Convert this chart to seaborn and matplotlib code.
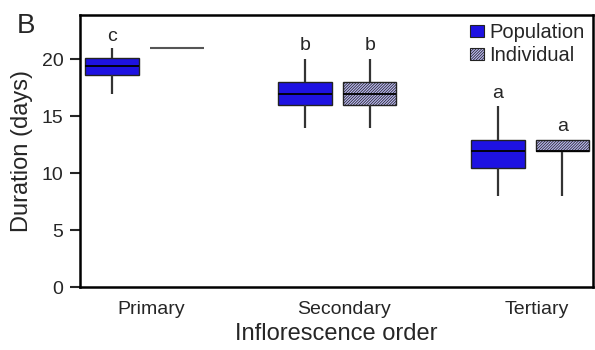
import matplotlib
matplotlib.use("Agg")
import matplotlib.pyplot as plt
import matplotlib.transforms as mtransforms
import seaborn as sns
import pandas as pd
import numpy as np
from matplotlib.patches import Patch

# ---- data (five-number style samples) ----
orders = ["Primary", "Secondary", "Tertiary"]
groups = ["Population", "Individual"]
pop_primary = [17, 18.6, 19.4, 20.15, 21]
ind_primary = [21, 21, 21, 21, 21]
pop_secondary = [14, 16, 17, 18, 20]
ind_secondary = [14, 16, 17, 18, 20]
pop_tertiary = [8, 10.45, 11.95, 12.9, 15.9]
ind_tertiary = [8, 11.95, 11.95, 12.9, 12.9]
letters = ["c", "", "b", "b", "a", "a"]
letter_y = [22.0, 0, 21.2, 21.2, 17.0, 14.1]

rows = []
for order, (p, i) in zip(orders, [(pop_primary, ind_primary),
                                  (pop_secondary, ind_secondary),
                                  (pop_tertiary, ind_tertiary)]):
    rows += [(order, "Population", v) for v in p]
    rows += [(order, "Individual", v) for v in i]
df = pd.DataFrame(rows, columns=["order", "group", "duration"])

sns.set_style("white")
plt.rcParams["font.family"] = ["Liberation Sans", "DejaVu Sans"]
plt.rcParams["hatch.linewidth"] = 0.55
plt.rcParams["hatch.color"] = "#2818c8"

pop_color = "#1e12e2"
ind_color = "#bcbaf6"
hatch = "/" * 12

fig = plt.figure(figsize=(5.95, 3.5), dpi=100)
ax = fig.add_axes([0.1345, 0.18, 0.862, 0.777])

sns.boxplot(data=df, x="order", y="duration", hue="group", order=orders,
            hue_order=groups, palette=[pop_color, ind_color], whis=(0, 100),
            width=0.67, gap=0.17, saturation=1, linewidth=1.0,
            linecolor="#222222", legend=False, ax=ax,
            medianprops=dict(color="black", linewidth=1.3),
            whiskerprops=dict(color="#333333", linewidth=1.6),
            capprops=dict(linewidth=0))

# hatch the Individual boxes
target = np.array(matplotlib.colors.to_rgb(ind_color))
for p in ax.patches:
    fc = np.array(p.get_facecolor()[:3])
    if np.allclose(fc, target, atol=0.02):
        p.set_hatch(hatch)
        ext = p.get_path().get_extents()
        if ext.height < 1e-6:
            p.set_edgecolor("#555555")
            p.set_linewidth(1.5)
# collapsed median line (all values equal) drawn grey like the reference
for ln in ax.lines:
    y = np.asarray(ln.get_ydata(), dtype=float)
    x = np.asarray(ln.get_xdata(), dtype=float)
    if len(y) == 2 and np.allclose(y, 21) and ln.get_linewidth() > 0 and x.mean() > 0:
        ln.set_color("#555555")

ax.set_ylim(0, 23.9)
ax.set_xlim(-0.334, 2.326)
ax.set_yticks([0, 5, 10, 15, 20])
ax.tick_params(axis="y", length=7, width=1.5, labelsize=14, direction="out",
               left=True, pad=5)
ax.tick_params(axis="x", length=0, labelsize=14, pad=10)
offset = mtransforms.ScaledTranslation(0.07, 0, fig.dpi_scale_trans)
for lab in ax.get_xticklabels():
    lab.set_transform(lab.get_transform() + offset)
for s in ax.spines.values():
    s.set_linewidth(1.8)
    s.set_color("black")

ax.set_ylabel("Duration (days)", fontsize=17, labelpad=6)
ax.set_xlabel("Inflorescence order", fontsize=17, labelpad=4)

# significance letters
offs = [-0.168, 0.168]
k = 0
for ci in range(len(orders)):
    for gi in range(2):
        if letters[k]:
            ax.text(ci + offs[gi], letter_y[k], letters[k], ha="center",
                    va="center", fontsize=14)
        k += 1

handles = [Patch(facecolor=pop_color, edgecolor="#222222", linewidth=0.8),
           Patch(facecolor=ind_color, edgecolor="#222222", linewidth=0.8, hatch=hatch)]
ax.legend(handles, groups, loc="upper right", frameon=False, fontsize=14.5,
          handlelength=0.65, handleheight=0.6, handletextpad=0.3,
          labelspacing=0.2, borderaxespad=0.0, borderpad=0.4)

fig.text(0.028, 0.905, "B", fontsize=20)

fig.savefig("out.png", dpi=100)
